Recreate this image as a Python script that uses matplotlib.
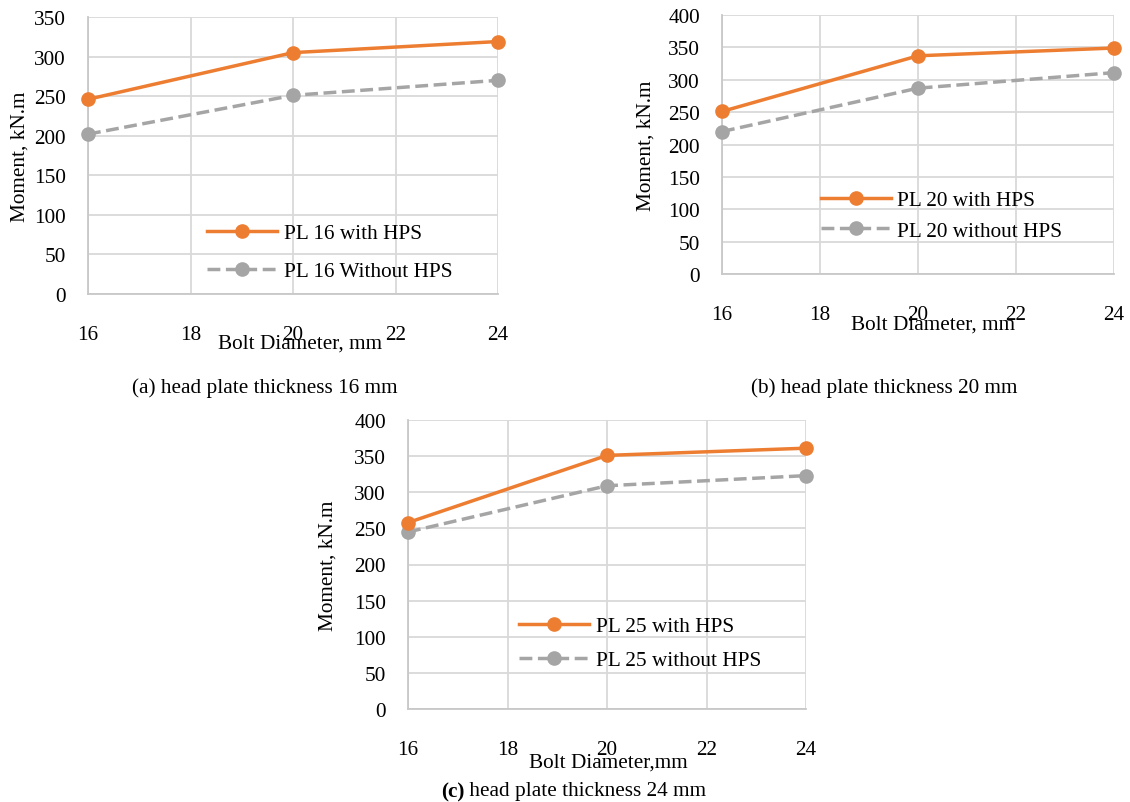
import matplotlib
matplotlib.use("Agg")
import matplotlib.pyplot as plt

plt.rcParams['font.family'] = ['Liberation Serif', 'DejaVu Serif']

# Bolt diameters (mm) and ultimate moments (kN.m)
diam = [16, 20, 24]
with_16 = [246, 305, 319]
without_16 = [202, 251, 270]
with_20 = [251, 337, 349]
without_20 = [220, 287, 311]
with_25 = [258, 351, 361]
without_25 = [245, 309, 323]

x_ticks = [16, 18, 20, 22, 24]

W, H = 1130, 803
fig = plt.figure(figsize=(W / 100, H / 100), dpi=100)
FS = 15.3
ORANGE = '#ED7D31'
GREY = '#A5A5A5'


def panel(box, ymax, s_with, s_without, labels, ylab_x, xlab_dy, xlab_dx, leg_xy, leg_sp):
    l, t, r, b = box
    ax = fig.add_axes([l / W, 1 - b / H, (r - l) / W, (b - t) / H])
    ax.plot(diam, s_with, color=ORANGE, lw=2.5, marker='o', ms=9.5,
            label=labels[0], clip_on=False, zorder=4)
    ax.plot(diam, s_without, color=GREY, lw=2.5, ls='--', marker='o', ms=9.5,
            label=labels[1], clip_on=False, zorder=3)
    ax.set_xlim(16, 24)
    ax.set_ylim(0, ymax)
    ax.set_xticks(x_ticks)
    ax.set_yticks(range(0, ymax + 1, 50))
    ax.grid(True, color='#d9d9d9', lw=1.3)
    ax.set_axisbelow(True)
    for s in ['top', 'right']:
        ax.spines[s].set_visible(False)
    for s in ['left', 'bottom']:
        ax.spines[s].set_color('#c8c8c8')
        ax.spines[s].set_linewidth(1.3)
    ax.tick_params(length=0, labelsize=FS, colors='black')
    ax.tick_params(axis='x', pad=22)
    ax.tick_params(axis='y', pad=16)

    h = b - t
    w = r - l
    ax.set_xlabel(labels[2], fontsize=FS)
    ax.xaxis.set_label_coords(0.5 + xlab_dx / w, -xlab_dy / h)
    ax.xaxis.label.set_va('center')
    ax.set_ylabel('Moment, kN.m', fontsize=FS)
    ax.yaxis.set_label_coords((ylab_x - l) / w, 0.5)
    ax.yaxis.label.set_va('center')

    lx, ly = leg_xy
    ax.legend(loc='center left', bbox_to_anchor=((lx - l) / w, (b - ly) / h),
              frameon=False, fontsize=FS, borderpad=0, borderaxespad=0,
              handlelength=3.3, handletextpad=0.3, labelspacing=leg_sp)
    return ax


panel((88, 18, 498, 295), 350, with_16, without_16,
      ['PL 16 with HPS', 'PL 16 Without HPS', 'Bolt Diameter, mm'],
      20, 49, 7, (207, 253.5), 0.85)
panel((722, 16, 1114, 275), 400, with_20, without_20,
      ['PL 20 with HPS', 'PL 20 without HPS', 'Bolt Diameter, mm'],
      646, 50, 15, (821, 216.7), 0.5)
panel((408, 421, 806, 710), 400, with_25, without_25,
      ['PL 25 with HPS', 'PL 25 without HPS', 'Bolt Diameter,mm'],
      328, 53, 1, (519, 644.3), 0.65)

# captions under each panel
fig.text(265 / W, 1 - 388 / H, '(a) head plate thickness 16 mm',
         ha='center', va='center', fontsize=FS)
fig.text(884 / W, 1 - 388 / H, '(b) head plate thickness 20 mm',
         ha='center', va='center', fontsize=FS)
tc = fig.text(441 / W, 1 - 792 / H, '(c)', ha='left', va='center',
              fontsize=FS, fontweight='bold')
fig.canvas.draw()
bb = tc.get_window_extent()
fig.text(bb.x1 / W, 1 - 792 / H, ' head plate thickness 24 mm',
         ha='left', va='center', fontsize=FS)

fig.savefig('out.png', dpi=100)
